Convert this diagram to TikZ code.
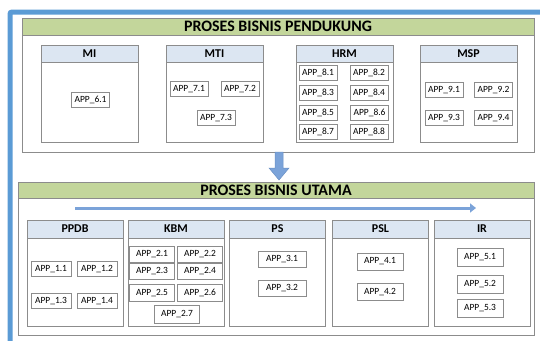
\documentclass[tikz,border=0pt]{standalone}
\usepackage{fontspec}
\setmainfont{Carlito}
\usetikzlibrary{arrows.meta}
\definecolor{hdrgreen}{HTML}{C3D69B}
\definecolor{hdrblue}{HTML}{DCE6F2}
\definecolor{framebl}{HTML}{5B9BD5}
\definecolor{arrbl}{HTML}{7BA3D9}
\definecolor{arrdk}{HTML}{6A90C4}
\definecolor{bordgr}{HTML}{8C8C8C}
\tikzset{
 panel/.style={draw=bordgr, line width=0.8bp, fill=white, inner sep=0pt},
 panelhdr/.style={draw=bordgr, line width=0.8bp, fill=hdrgreen, inner sep=0pt, font=\fontsize{16}{18}\selectfont\bfseries},
 grpbox/.style={draw=bordgr, line width=0.8bp, fill=white, inner sep=0pt},
 grphdr/.style={draw=bordgr, line width=0.8bp, fill=hdrblue, inner sep=0pt, font=\fontsize{12}{14}\selectfont\bfseries},
 app/.style={draw=bordgr, line width=0.7bp, fill=white, inner sep=0pt, minimum width=38bp, minimum height=15bp, font=\fontsize{9.5}{11}\selectfont},
 appw/.style={app, minimum width=#1},
}
\begin{document}
\begin{tikzpicture}[x=1bp,y=-1bp]
\useasboundingbox (0,0) rectangle (540,340);
% blue frame
\draw[framebl, line width=5bp, rounded corners=2bp] (10,342) -- (10,12) -- (542,12);

% ===== top panel
\node[panel, minimum width=512bp, minimum height=134bp] (top) at (278,85) {};
\node[panelhdr, minimum width=512bp, minimum height=17bp] (tophdr) at (278,26.5) {PROSES BISNIS PENDUKUNG};

% groups top
\foreach \nm/\lbl/\cx in {mi/MI/89.5, mti/MTI/214.5, hrm/HRM/344.5, msp/MSP/468.5}{
  \node[grpbox, minimum width=97bp, minimum height=97bp] (\nm) at (\cx,93.5) {};
  \node[grphdr, minimum width=97bp, minimum height=17bp] (\nm h) at (\cx,53.5) {\lbl};
}
\node[app] (a61) at (90.5,100) {APP\_6.1};
\node[app] (a71) at (189,89) {APP\_7.1};
\node[app] (a72) at (240,89) {APP\_7.2};
\node[app] (a73) at (216,118) {APP\_7.3};
\node[app] (a81) at (318,73) {APP\_8.1};
\node[app] (a82) at (369,73) {APP\_8.2};
\node[app] (a83) at (318,93) {APP\_8.3};
\node[app] (a84) at (369,93) {APP\_8.4};
\node[app] (a85) at (318,113) {APP\_8.5};
\node[app] (a86) at (369.5,113) {APP\_8.6};
\node[app] (a87) at (318,132) {APP\_8.7};
\node[app] (a88) at (369,131.5) {APP\_8.8};
\node[app] (a91) at (444,90) {APP\_9.1};
\node[app] (a92) at (493.5,90) {APP\_9.2};
\node[app] (a93) at (444,118) {APP\_9.3};
\node[app] (a94) at (493.5,118) {APP\_9.4};

% ===== bottom panel
\node[panel, minimum width=516bp, minimum height=153bp] (bot) at (276,258.5) {};
\node[panelhdr, minimum width=516bp, minimum height=16bp] (bothdr) at (276,190) {PROSES BISNIS UTAMA};

% down block arrow
\coordinate (dA) at (279,152);
\filldraw[fill=arrbl, draw=arrdk, line width=0.5bp]
  ([xshift=-4bp]dA) -- ([xshift=4bp]dA) -- ([xshift=4bp,yshift=-16bp]dA)
  -- ([xshift=10bp,yshift=-16bp]dA) -- ([yshift=-28bp]dA)
  -- ([xshift=-10bp,yshift=-16bp]dA) -- ([xshift=-4bp,yshift=-16bp]dA) -- cycle;

% horizontal arrow
\coordinate (hs) at (75,208);
\coordinate (he) at (476,208);
\draw[arrbl, line width=3bp, -{Triangle[width=9bp,length=6bp]}] (hs) -- (he);

% groups bottom
\foreach \nm/\lbl/\cx in {ppdb/PPDB/75, kbm/KBM/176, ps/PS/277.5, psl/PSL/380.5, ir/IR/482}{
  \node[grpbox, minimum width=96bp, minimum height=106bp] (\nm) at (\cx,273) {};
  \node[grphdr, minimum width=96bp, minimum height=18bp] (\nm h) at (\cx,229) {\lbl};
}
\node[appw=40bp] (a11) at (51,269) {APP\_1.1};
\node[appw=40bp] (a12) at (97,269) {APP\_1.2};
\node[appw=40bp] (a13) at (51,301) {APP\_1.3};
\node[appw=40bp] (a14) at (97,301) {APP\_1.4};
\node[appw=45bp, minimum height=16bp] (a21) at (152,254) {APP\_2.1};
\node[appw=45bp, minimum height=16bp] (a22) at (200,254) {APP\_2.2};
\node[appw=45bp, minimum height=16bp] (a23) at (152,271) {APP\_2.3};
\node[appw=45bp, minimum height=16bp] (a24) at (200,271) {APP\_2.4};
\node[appw=45bp, minimum height=17bp] (a25) at (152,293) {APP\_2.5};
\node[appw=45bp, minimum height=17bp] (a26) at (200,293) {APP\_2.6};
\node[appw=45bp, minimum height=18bp] (a27) at (177,314.5) {APP\_2.7};
\node[appw=48bp, minimum height=16bp] (a31) at (282,259.5) {APP\_3.1};
\node[appw=48bp, minimum height=16bp] (a32) at (282,288) {APP\_3.2};
\node[appw=46bp, minimum height=17bp] (a41) at (380,261.5) {APP\_4.1};
\node[appw=46bp, minimum height=17bp] (a42) at (380,292) {APP\_4.2};
\node[appw=46bp, minimum height=18bp] (a51) at (480,257.5) {APP\_5.1};
\node[appw=46bp, minimum height=18bp] (a52) at (480,284) {APP\_5.2};
\node[appw=46bp, minimum height=18bp] (a53) at (480,308.5) {APP\_5.3};
\end{tikzpicture}
\end{document}
